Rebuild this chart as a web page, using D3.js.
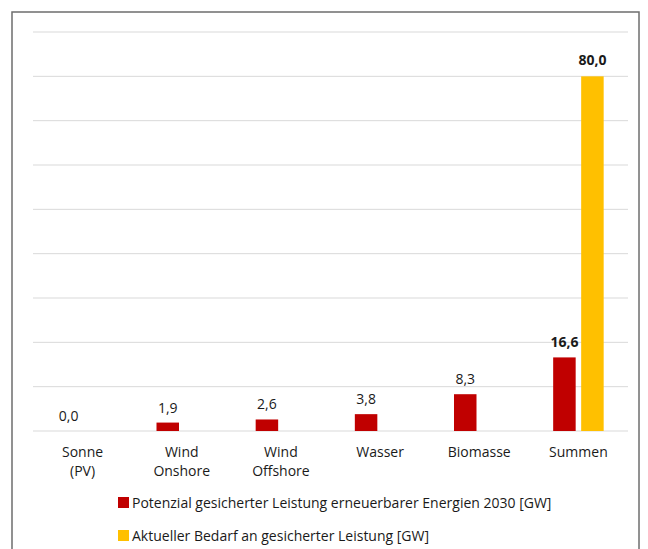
<!DOCTYPE html>
<html><head><meta charset="utf-8">
<script src="https://cdn.jsdelivr.net/npm/d3@7"></script>
<style>body{margin:0;background:#fff}svg{display:block}text{font-family:"Open Sans",sans-serif;fill:#1a1a1a}</style>
</head><body>
<svg id="c" width="648" height="549"></svg>
<script>
const categories = [["Sonne","(PV)"],["Wind","Onshore"],["Wind","Offshore"],["Wasser"],["Biomasse"],["Summen"]];
const potenzial = [0.0, 1.9, 2.6, 3.8, 8.3, 16.6];
const bedarf = [null, null, null, null, null, 80.0];
const seriesNames = ["Potenzial gesicherter Leistung erneuerbarer Energien 2030 [GW]","Aktueller Bedarf an gesicherter Leistung [GW]"];
const colors = ["#C00000","#FFC000"];
const yTicks = [0,10,20,30,40,50,60,70,80,90];

const svg = d3.select("#c");
svg.append("rect").attr("x",12).attr("y",12).attr("width",627).attr("height",560)
  .attr("fill","none").attr("stroke","#6e6e6e").attr("stroke-width",1.5);

const x = d3.scaleBand().domain(d3.range(categories.length)).range([33,628]);
const y = d3.scaleLinear().domain([0,90]).range([431,32]);

svg.append("g").selectAll("line").data(yTicks).join("line")
  .attr("x1",33).attr("x2",628).attr("y1",d=>y(d)).attr("y2",d=>y(d))
  .attr("stroke","#d9d9d9").attr("stroke-width",1);

const bw = 22.5, off = 14;
const fmt = v => d3.format(".1f")(v).replace(".",",");

potenzial.forEach((v,i)=>{
  const cx = x(i)+x.bandwidth()/2 - off;
  svg.append("rect").attr("x",cx-bw/2).attr("y",y(v)).attr("width",bw).attr("height",y(0)-y(v)).attr("fill",colors[0]);
  svg.append("text").attr("x",cx).attr("y",y(v)-10).attr("text-anchor","middle")
    .attr("font-size",14).attr("font-weight", i===5?"bold":"normal").text(fmt(v));
});
bedarf.forEach((v,i)=>{
  if(v==null) return;
  const cx = x(i)+x.bandwidth()/2 + off;
  svg.append("rect").attr("x",cx-bw/2).attr("y",y(v)).attr("width",bw).attr("height",y(0)-y(v)).attr("fill",colors[1]);
  svg.append("text").attr("x",cx).attr("y",y(v)-11).attr("text-anchor","middle")
    .attr("font-size",14).attr("font-weight","bold").text(fmt(v));
});

categories.forEach((lines,i)=>{
  const t = svg.append("text").attr("x",x(i)+x.bandwidth()/2).attr("y",457).attr("text-anchor","middle").attr("font-size",14);
  lines.forEach((l,j)=>t.append("tspan").attr("x",x(i)+x.bandwidth()/2).attr("dy",j?19:0).text(l));
});

seriesNames.forEach((n,i)=>{
  const yy = 508 + i*33;
  svg.append("rect").attr("x",118).attr("y",yy-11).attr("width",11).attr("height",11).attr("fill",colors[i]);
  svg.append("text").attr("x",132).attr("y",yy).attr("font-size",14).text(n);
});
</script>
</body></html>
